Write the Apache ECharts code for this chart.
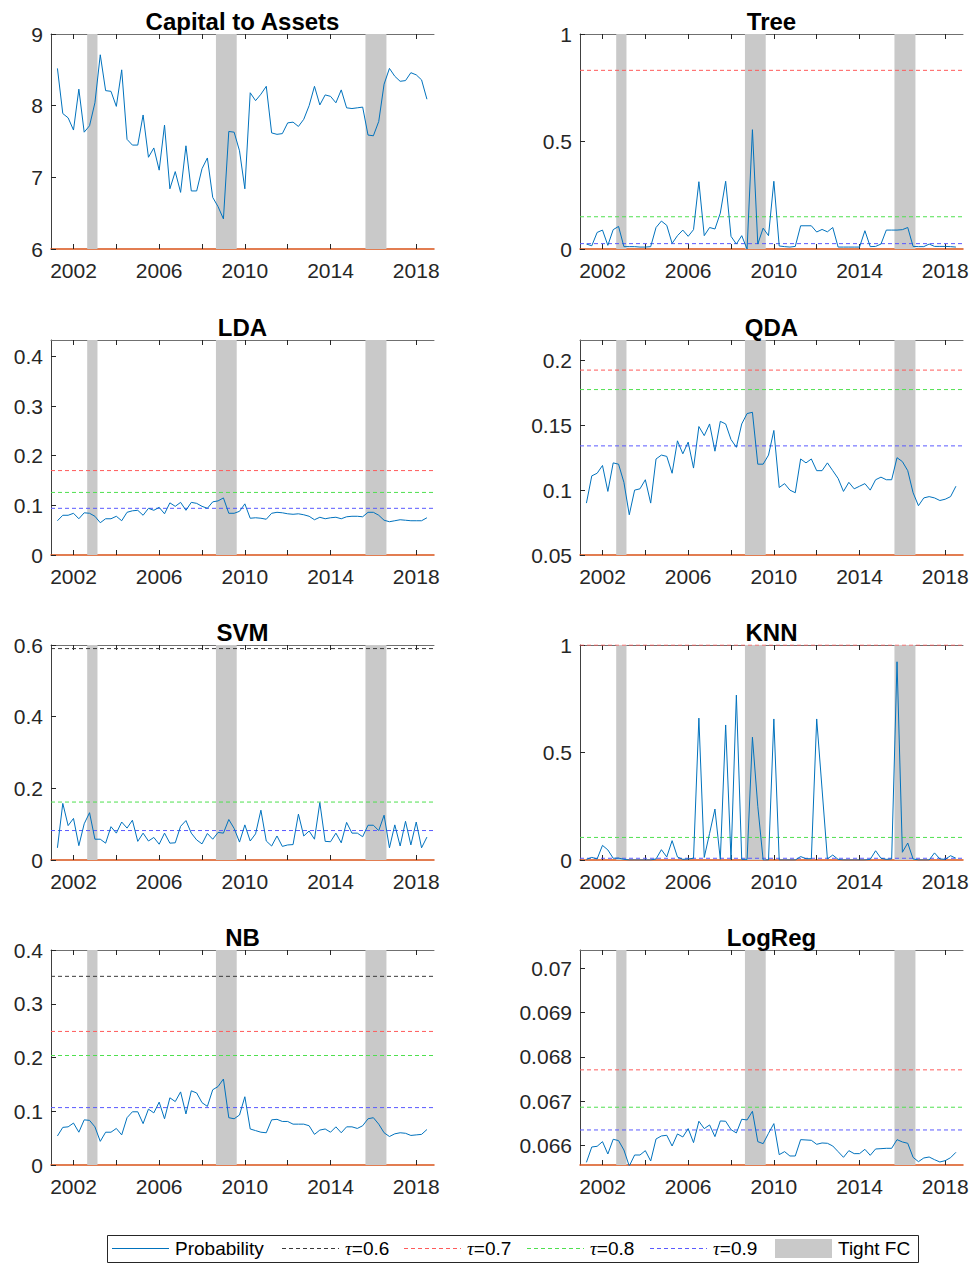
<!DOCTYPE html>
<html>
<head>
<meta charset="utf-8">
<script src="https://cdn.jsdelivr.net/npm/echarts@6/dist/echarts.min.js"></script>
<style>
  html, body { margin: 0; padding: 0; background: #fff; }
  #chart { width: 974px; height: 1263px; }
</style>
</head>
<body>
<div id="chart"></div>
<script>
// Quarterly observations, 2001Q1 .. 2018Q2 (quarter-end as fractional year)
const FIRST_QUARTER_END = 2001.25;
const N_QUARTERS = 70;
const dates = Array.from({ length: N_QUARTERS }, (_, i) => FIRST_QUARTER_END + 0.25 * i);

const X_MIN = 2000.95;
const X_MAX = 2018.83;
const xTickValues = [2002, 2004, 2006, 2008, 2010, 2012, 2014, 2016, 2018];
const xTickLabels = [2002, 2006, 2010, 2014, 2018];

// Tight financial-conditions episodes [start, end]
const tightFC = [[2002.64, 2003.12], [2008.65, 2009.62], [2015.63, 2016.61]];

const capitalToAssets = [8.52,7.89,7.83,7.66,8.23,7.63,7.72,8.04,8.71,8.21,
  8.20,7.99,8.50,7.53,7.45,7.45,7.87,7.28,7.41,7.10,
  7.73,6.84,7.08,6.79,7.44,6.81,6.81,7.12,7.27,6.72,
  6.59,6.42,7.64,7.63,7.37,6.84,8.18,8.07,8.16,8.27,
  7.62,7.60,7.61,7.76,7.77,7.71,7.81,8.00,8.27,8.01,
  8.15,8.13,8.04,8.22,7.97,7.96,7.97,7.98,7.59,7.58,
  7.78,8.30,8.52,8.41,8.34,8.35,8.46,8.43,8.36,8.09];

const probTree = [0.023,0.015,0.077,0.088,0.017,0.090,0.105,0.011,0.011,0.011,
  0.009,0.009,0.011,0.100,0.130,0.110,0.026,0.062,0.088,0.059,
  0.090,0.313,0.062,0.100,0.093,0.167,0.315,0.059,0.023,0.062,
  0.000,0.555,0.023,0.097,0.062,0.315,0.014,0.011,0.009,0.012,
  0.108,0.108,0.108,0.079,0.091,0.080,0.100,0.009,0.009,0.009,
  0.009,0.009,0.085,0.011,0.012,0.023,0.088,0.088,0.088,0.090,
  0.100,0.012,0.011,0.011,0.023,0.012,0.012,0.012,0.011,0.009];

const probLDA = [0.069,0.080,0.080,0.084,0.073,0.085,0.084,0.078,0.065,0.073,
  0.073,0.078,0.069,0.086,0.089,0.090,0.080,0.094,0.090,0.096,
  0.083,0.105,0.098,0.106,0.090,0.106,0.104,0.098,0.094,0.107,
  0.109,0.115,0.084,0.084,0.088,0.103,0.074,0.075,0.074,0.072,
  0.084,0.086,0.085,0.083,0.082,0.083,0.081,0.078,0.071,0.076,
  0.073,0.075,0.076,0.073,0.077,0.078,0.078,0.077,0.086,0.086,
  0.080,0.070,0.067,0.069,0.071,0.070,0.069,0.069,0.069,0.075];

const probQDA = [0.090,0.111,0.113,0.119,0.099,0.121,0.120,0.106,0.081,0.100,
  0.101,0.108,0.090,0.124,0.127,0.126,0.113,0.138,0.128,0.137,
  0.117,0.149,0.142,0.151,0.130,0.153,0.151,0.139,0.133,0.151,
  0.159,0.160,0.120,0.120,0.127,0.146,0.102,0.105,0.100,0.098,
  0.124,0.121,0.124,0.115,0.115,0.121,0.115,0.109,0.099,0.106,
  0.101,0.103,0.105,0.100,0.108,0.110,0.108,0.108,0.125,0.122,
  0.115,0.098,0.088,0.094,0.095,0.094,0.092,0.093,0.095,0.103];

const probSVM = [0.034,0.158,0.096,0.116,0.040,0.101,0.132,0.058,0.058,0.047,
  0.093,0.075,0.106,0.089,0.111,0.052,0.075,0.053,0.063,0.044,
  0.075,0.047,0.048,0.094,0.110,0.075,0.056,0.045,0.074,0.058,
  0.077,0.075,0.113,0.088,0.050,0.098,0.053,0.073,0.139,0.053,
  0.039,0.067,0.038,0.042,0.043,0.128,0.067,0.081,0.058,0.160,
  0.052,0.051,0.075,0.048,0.105,0.075,0.075,0.065,0.097,0.097,
  0.082,0.125,0.034,0.098,0.039,0.108,0.042,0.106,0.034,0.064];

const probKNN = [0.003,0.012,0.005,0.068,0.047,0.008,0.009,0.003,0,0,
  0,0,0,0.005,0.048,0.014,0.090,0.014,0.003,0.005,
  0.008,0.660,0.012,0.124,0.237,0.003,0.628,0.003,0.767,0.003,
  0.003,0.571,0.250,0,0,0.656,0,0,0,0,
  0.016,0.006,0.006,0.656,0.330,0.005,0.023,0.003,0,0,
  0,0,0,0.003,0.043,0.008,0.003,0.005,0.922,0.036,
  0.079,0.005,0,0,0,0.033,0.005,0.003,0.020,0.008];

const probNB = [0.054,0.070,0.071,0.078,0.061,0.084,0.083,0.071,0.044,0.061,
  0.061,0.068,0.056,0.088,0.099,0.099,0.077,0.104,0.097,0.117,
  0.086,0.125,0.118,0.136,0.095,0.138,0.134,0.116,0.109,0.140,
  0.146,0.160,0.088,0.086,0.093,0.127,0.067,0.064,0.061,0.060,
  0.084,0.085,0.081,0.081,0.076,0.076,0.076,0.073,0.057,0.065,
  0.067,0.061,0.071,0.060,0.071,0.071,0.068,0.073,0.086,0.088,
  0.076,0.060,0.053,0.058,0.060,0.059,0.055,0.056,0.057,0.066];

const probLogReg = [0.065624,0.065970,0.065985,0.066090,0.065812,0.066143,0.066113,0.065902,0.065540,0.065789,
  0.065789,0.065887,0.065654,0.066150,0.066218,0.066233,0.065992,0.066263,0.066195,0.066383,
  0.066068,0.066549,0.066383,0.066466,0.066203,0.066556,0.066549,0.066361,0.066286,0.066594,
  0.066579,0.066774,0.066090,0.066045,0.066278,0.066496,0.065797,0.065865,0.065767,0.065767,
  0.066135,0.066128,0.066120,0.066030,0.066060,0.066053,0.065992,0.065865,0.065737,0.065887,
  0.065820,0.065820,0.065917,0.065782,0.065925,0.065932,0.065940,0.065940,0.066135,0.066083,
  0.066053,0.065737,0.065639,0.065722,0.065744,0.065684,0.065632,0.065662,0.065729,0.065850];

// Signal thresholds per model, order: tau = 0.6, 0.7, 0.8, 0.9 (null = not shown)
const tauNames = ['τ=0.6', 'τ=0.7', 'τ=0.8', 'τ=0.9'];
const thrTree   = [null, 0.831, 0.150, 0.025];
const thrLDA    = [null, 0.170, 0.126, 0.094];
const thrQDA    = [null, 0.1925, 0.1775, 0.1341];
const thrSVM    = [0.590, null, 0.1617, 0.0822];
const thrKNN    = [null, 1.0, 0.105, 0.008];
const thrNB     = [0.351, 0.2485, 0.2037, 0.1068];
const thrLogReg = [null, 0.067707, 0.066865, 0.066353];

// y-axis tick labels
const yTicksCap = [6, 7, 8, 9];
const yTicksUnit = [0, 0.5, 1];
const yTicksLDA = [0, 0.1, 0.2, 0.3, 0.4];
const yTicksQDA = [0.05, 0.1, 0.15, 0.2];
const yTicksSVM = [0, 0.2, 0.4, 0.6];
const yTicksNB = [0, 0.1, 0.2, 0.3, 0.4];
const yTicksLogReg = [0.066, 0.067, 0.068, 0.069, 0.07];

const panels = [
  { title: 'Capital to Assets', values: capitalToAssets, ymin: 6, ymax: 9, ticks: yTicksCap, thr: [null, null, null, null] },
  { title: 'Tree', values: probTree, ymin: 0, ymax: 1, ticks: yTicksUnit, thr: thrTree },
  { title: 'LDA', values: probLDA, ymin: 0, ymax: 0.433, ticks: yTicksLDA, thr: thrLDA },
  { title: 'QDA', values: probQDA, ymin: 0.05, ymax: 0.2157, ticks: yTicksQDA, thr: thrQDA },
  { title: 'SVM', values: probSVM, ymin: 0, ymax: 0.6, ticks: yTicksSVM, thr: thrSVM },
  { title: 'KNN', values: probKNN, ymin: 0, ymax: 1, ticks: yTicksUnit, thr: thrKNN },
  { title: 'NB', values: probNB, ymin: 0, ymax: 0.4, ticks: yTicksNB, thr: thrNB },
  { title: 'LogReg', values: probLogReg, ymin: 0.065564, ymax: 0.070406, ticks: yTicksLogReg, thr: thrLogReg }
];

// Layout
const colLeft = [51, 580];
const plotWidth = 383;
const rowTop = [34, 340, 645, 950];
const plotHeight = 215;

const FONT = 'Liberation Sans, Arial, sans-serif';
const LINE_BLUE = '#0072BD';
const BASE_ORANGE = '#D95319';
const BAND_GREY = '#c9c9c9';
const tauColors = ['#3a3a3a', '#ff5a5a', '#4fe04f', '#5a5aff'];
const DASH = [4, 3];

const fmt = v => String(+(+v).toFixed(6));

const grid = [], xAxis = [], yAxis = [], series = [], title = [];

panels.forEach((p, k) => {
  const col = k % 2, row = Math.floor(k / 2);
  const left = colLeft[col], top = rowTop[row];
  grid.push({ left, top, width: plotWidth, height: plotHeight, containLabel: false });

  title.push({
    text: p.title,
    left: left + plotWidth / 2,
    top: top - 25,
    textAlign: 'center',
    padding: 0,
    textStyle: { fontFamily: FONT, fontWeight: 'bold', fontSize: 24, color: '#000' }
  });

  // bottom axis
  xAxis.push({
    gridIndex: k, type: 'value', min: X_MIN, max: X_MAX, position: 'bottom',
    axisLine: { show: true, onZero: false, lineStyle: { color: BASE_ORANGE, width: 1.5 } },
    axisTick: { show: true, inside: true, length: 5, customValues: xTickValues, lineStyle: { color: '#262626', width: 1 } },
    axisLabel: { show: true, customValues: xTickLabels, margin: 11, fontFamily: FONT, fontSize: 21, color: '#262626', formatter: v => String(Math.round(v)) },
    splitLine: { show: false }
  });
  // top frame
  xAxis.push({
    gridIndex: k, type: 'value', min: X_MIN, max: X_MAX, position: 'top',
    axisLine: { show: true, onZero: false, lineStyle: { color: '#707070', width: 1 } },
    axisTick: { show: true, inside: true, length: 5, customValues: xTickValues, lineStyle: { color: '#262626', width: 1 } },
    axisLabel: { show: false },
    splitLine: { show: false }
  });
  yAxis.push({
    gridIndex: k, type: 'value', min: p.ymin, max: p.ymax,
    axisLine: { show: true, onZero: false, lineStyle: { color: '#404040', width: 1 } },
    axisTick: { show: true, inside: true, length: 5, customValues: p.ticks, lineStyle: { color: '#262626', width: 1 } },
    axisLabel: { show: true, customValues: p.ticks, margin: 8, fontFamily: FONT, fontSize: 21, color: '#262626', formatter: fmt },
    splitLine: { show: false }
  });

  const xi = 2 * k, yi = k;

  // shaded tight-FC episodes
  series.push({
    name: 'Tight FC', type: 'custom', xAxisIndex: xi, yAxisIndex: yi, z: 1, silent: true,
    itemStyle: { color: BAND_GREY },
    data: tightFC.map(b => [b[0], b[1], p.ymin]),
    encode: { x: [0, 1], y: 2 },
    renderItem: (params, api) => {
      const cs = params.coordSys;
      const x0 = api.coord([api.value(0), p.ymin])[0];
      const x1 = api.coord([api.value(1), p.ymin])[0];
      return { type: 'rect', shape: { x: x0, y: cs.y, width: x1 - x0, height: cs.height }, style: { fill: BAND_GREY } };
    }
  });

  // thresholds
  p.thr.forEach((v, t) => {
    if (v === null) return;
    series.push({
      name: tauNames[t], type: 'line', xAxisIndex: xi, yAxisIndex: yi, z: 3,
      symbol: 'none', silent: true, animation: false, color: tauColors[t],
      lineStyle: { color: tauColors[t], width: 1, type: DASH, opacity: 1 },
      itemStyle: { color: tauColors[t] },
      data: [[X_MIN, v], [X_MAX, v]]
    });
  });

  // probability / ratio series
  series.push({
    name: 'Probability', type: 'line', xAxisIndex: xi, yAxisIndex: yi, z: 4,
    symbol: 'none', silent: true, animation: false, clip: true, color: LINE_BLUE,
    lineStyle: { color: LINE_BLUE, width: 1 },
    itemStyle: { color: LINE_BLUE },
    data: dates.map((d, i) => [d, p.values[i]])
  });
});

// Legend drawn as a boxed row of keys
const legendKeys = [
  { text: 'Probability', kind: 'line', color: LINE_BLUE, dash: null, x: 112 },
  { text: '{t|τ}=0.6', kind: 'line', color: tauColors[0], dash: DASH, x: 282 },
  { text: '{t|τ}=0.7', kind: 'line', color: tauColors[1], dash: DASH, x: 404 },
  { text: '{t|τ}=0.8', kind: 'line', color: tauColors[2], dash: DASH, x: 527 },
  { text: '{t|τ}=0.9', kind: 'line', color: tauColors[3], dash: DASH, x: 650 },
  { text: 'Tight FC', kind: 'rect', color: BAND_GREY, dash: null, x: 775 }
];
const LEG_Y = 1248.5, KEY_W = 57;
const graphic = [{
  type: 'rect', left: 107, top: 1235, z: 100,
  shape: { x: 0, y: 0, width: 811, height: 27 },
  style: { fill: '#fff', stroke: '#262626', lineWidth: 1 }
}];
legendKeys.forEach(k => {
  if (k.kind === 'line') {
    graphic.push({
      type: 'line', z: 101,
      shape: { x1: k.x, y1: LEG_Y, x2: k.x + KEY_W, y2: LEG_Y },
      style: { stroke: k.color, lineWidth: 1, lineDash: k.dash || null }
    });
  } else {
    graphic.push({
      type: 'rect', z: 101,
      shape: { x: k.x, y: LEG_Y - 9.5, width: KEY_W, height: 19 },
      style: { fill: k.color }
    });
  }
  graphic.push({
    type: 'text', z: 101, x: k.x + KEY_W + 6, y: LEG_Y,
    style: {
      text: k.text, fill: '#000', font: '19px ' + FONT, verticalAlign: 'middle', align: 'left',
      rich: { t: { fontFamily: 'Liberation Serif, serif', fontStyle: 'italic', fontSize: 19, fill: '#000' } }
    }
  });
});

const chart = echarts.init(document.getElementById('chart'), null, { renderer: 'svg' });
chart.setOption({
  backgroundColor: '#fff',
  animation: false,
  title,
  grid,
  xAxis,
  yAxis,
  series,
  graphic
});
</script>
</body>
</html>
